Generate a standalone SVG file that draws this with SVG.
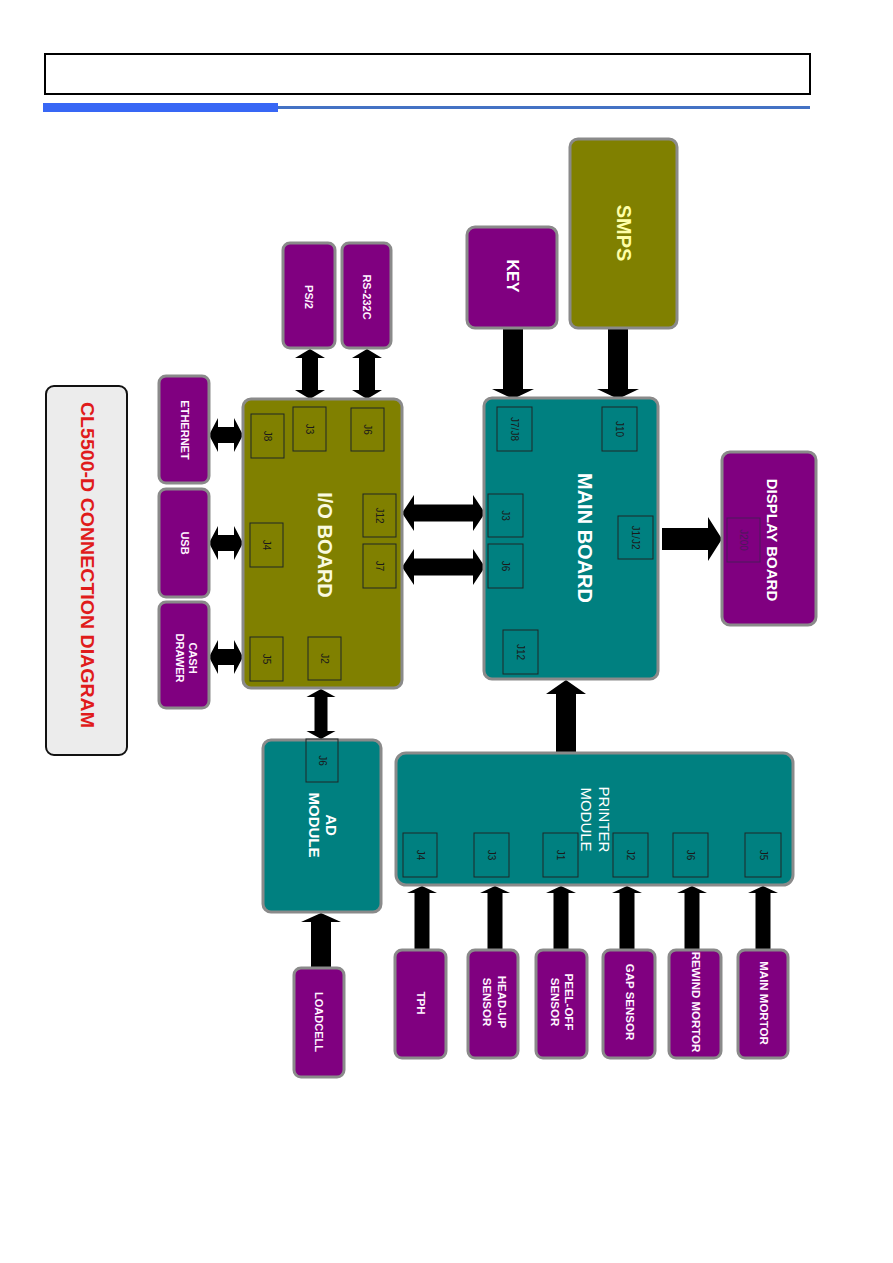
<svg xmlns="http://www.w3.org/2000/svg" width="893" height="1263" viewBox="0 0 893 1263">
<style>
.purple{fill:#800080;stroke:#8a8a8a;stroke-width:3}
.teal{fill:#008080;stroke:#8a8a8a;stroke-width:3}
.olive{fill:#808000;stroke:#8a8a8a;stroke-width:3}
.conn{fill:none;stroke:#1e2626;stroke-width:1}
.connd{fill:none;stroke:#4a1a5a;stroke-width:1}
.arr{fill:#000}
.lbl{font-family:"Liberation Sans",Arial,sans-serif;font-weight:bold;fill:#ffffff;text-anchor:middle;dominant-baseline:central}
.pl{font-size:11px;fill:#fff4ff}
.bl{font-size:11.5px;fill:#fff4ff}
.cl{font-family:"Liberation Sans",Arial,sans-serif;font-size:10px;fill:#1a1a1a;text-anchor:middle;dominant-baseline:central}
</style>
<rect width="893" height="1263" fill="#ffffff"/>
<g id="header">
<rect x="45" y="54" width="765" height="40" fill="none" stroke="#000" stroke-width="2"/>
<rect x="43" y="103" width="235" height="9" fill="#3867f5"/>
<rect x="278" y="106" width="532" height="3" fill="#4472c4"/>
</g>
<g id="connectors">
<polygon class="arr" points="209,435 218,418 218,427 234,427 234,418 243,435 234,452 234,443 218,443 218,452"/>
<polygon class="arr" points="209,543 218,526 218,535 234,535 234,526 243,543 234,560 234,551 218,551 218,560"/>
<polygon class="arr" points="209,657 218,640 218,649 234,649 234,640 243,657 234,674 234,665 218,665 218,674"/>
<polygon class="arr" points="310,349 325,358 318,358 318,390 325,390 310,399 295,390 302,390 302,358 295,358"/>
<polygon class="arr" points="367,349 382,358 375,358 375,390 382,390 367,399 352,390 359,390 359,358 352,358"/>
<polygon class="arr" points="402,513 414,495 414,504.5 473,504.5 473,495 485,513 473,531 473,521.5 414,521.5 414,531"/>
<polygon class="arr" points="402,567 414,549 414,558.5 473,558.5 473,549 485,567 473,585 473,575.5 414,575.5 414,585"/>
<polygon class="arr" points="503,328 523,328 523,389 534,389 513,399 492,389 503,389"/>
<polygon class="arr" points="608,328 628,328 628,389 639,389 618,399 597,389 608,389"/>
<polygon class="arr" points="662,528 708,528 708,517 722,539 708,561 708,550 662,550"/>
<polygon class="arr" points="556,753 576,753 576,694 586,694 566,680 546,694 556,694"/>
<polygon class="arr" points="321,689 335.5,697 327.5,697 327.5,731 335.5,731 321,739 306.5,731 314.5,731 314.5,697 306.5,697"/>
<polygon class="arr" points="311,968 331,968 331,922 341,922 321,913 301,922 311,922"/>
<polygon class="arr" points="414.5,950 429.5,950 429.5,893 437,893 422,886 407,893 414.5,893"/>
<polygon class="arr" points="487.5,950 502.5,950 502.5,893 510,893 495,886 480,893 487.5,893"/>
<polygon class="arr" points="553.5,950 568.5,950 568.5,893 576,893 561,886 546,893 553.5,893"/>
<polygon class="arr" points="619.5,950 634.5,950 634.5,893 642,893 627,886 612,893 619.5,893"/>
<polygon class="arr" points="684.5,950 699.5,950 699.5,893 707,893 692,886 677,893 684.5,893"/>
<polygon class="arr" points="755.5,950 770.5,950 770.5,893 778,893 763,886 748,893 755.5,893"/>
</g>
<g id="title">
<rect x="46" y="386" width="81" height="369" rx="8" fill="#ececec" stroke="#111" stroke-width="2"/>
<text class="lbl" transform="translate(87,565) rotate(90)" font-size="18" fill="#e01b1b" style="fill:#e01b1b" textLength="326" lengthAdjust="spacingAndGlyphs">CL5500-D CONNECTION DIAGRAM</text>
</g>
<g id="io-board">
<rect class="olive" x="243" y="399" width="159" height="289" rx="8"/>
<text class="lbl" transform="translate(325,545) rotate(90)" font-size="20" style="fill:#fafae0">I/O BOARD</text>
<rect class="conn" x="251" y="414" width="33" height="44"/><text class="cl" transform="translate(267.5,436) rotate(90)">J8</text>
<rect class="conn" x="293" y="407" width="33" height="44"/><text class="cl" transform="translate(309.5,429) rotate(90)">J3</text>
<rect class="conn" x="351" y="408" width="33" height="43"/><text class="cl" transform="translate(367.5,429.5) rotate(90)">J6</text>
<rect class="conn" x="363" y="494" width="33" height="43"/><text class="cl" transform="translate(379.5,515.5) rotate(90)">J12</text>
<rect class="conn" x="363" y="544" width="33" height="44"/><text class="cl" transform="translate(379.5,566) rotate(90)">J7</text>
<rect class="conn" x="250" y="523" width="33" height="44"/><text class="cl" transform="translate(266.5,545) rotate(90)">J4</text>
<rect class="conn" x="250" y="637" width="33" height="44"/><text class="cl" transform="translate(266.5,659) rotate(90)">J5</text>
<rect class="conn" x="308" y="637" width="33" height="43"/><text class="cl" transform="translate(324.5,658.5) rotate(90)">J2</text>
</g>
<g id="main-board">
<rect class="teal" x="484" y="398" width="174" height="281" rx="8"/>
<text class="lbl" transform="translate(585,538) rotate(90)" font-size="20">MAIN BOARD</text>
<rect class="conn" x="497" y="407" width="35" height="44"/><text class="cl" transform="translate(514.5,429) rotate(90)">J7/J8</text>
<rect class="conn" x="602" y="407" width="35" height="44"/><text class="cl" transform="translate(619.5,429) rotate(90)">J10</text>
<rect class="conn" x="488" y="494" width="35" height="43"/><text class="cl" transform="translate(505.5,515.5) rotate(90)">J3</text>
<rect class="conn" x="488" y="544" width="35" height="44"/><text class="cl" transform="translate(505.5,566) rotate(90)">J6</text>
<rect class="conn" x="618" y="516" width="35" height="43"/><text class="cl" transform="translate(635.5,537.5) rotate(90)">J1/J2</text>
<rect class="conn" x="503" y="630" width="35" height="44"/><text class="cl" transform="translate(520.5,652) rotate(90)">J12</text>
</g>
<g id="display-board">
<rect class="purple" x="722" y="452" width="94" height="173" rx="8"/>
<text class="lbl" transform="translate(772,540) rotate(90)" font-size="15">DISPLAY BOARD</text>
<rect class="connd" x="727" y="518" width="33" height="44"/><text class="cl" transform="translate(743.5,540) rotate(90)" style="fill:#4a1a5a">J200</text>
</g>
<g id="ad-module">
<rect class="teal" x="263" y="740" width="118" height="172" rx="8"/>
<text class="lbl" transform="translate(323.5,825) rotate(90)" font-size="15"><tspan x="0" y="-8.5">AD</tspan><tspan x="0" y="8.5">MODULE</tspan></text>
<rect class="conn" x="306" y="739" width="32" height="43"/><text class="cl" transform="translate(322,760.5) rotate(90)">J6</text>
</g>
<g id="printer-module">
<rect class="teal" x="396" y="753" width="397" height="132" rx="10"/>
<text class="lbl" transform="translate(596,819.5) rotate(90)" font-size="15" font-weight="normal" style="font-weight:normal"><tspan x="0" y="-9">PRINTER</tspan><tspan x="0" y="9">MODULE</tspan></text>
<rect class="conn" x="403" y="833" width="34" height="44"/><text class="cl" transform="translate(420,855) rotate(90)">J4</text>
<rect class="conn" x="474" y="833" width="35" height="44"/><text class="cl" transform="translate(491.5,855) rotate(90)">J3</text>
<rect class="conn" x="543" y="833" width="35" height="44"/><text class="cl" transform="translate(560.5,855) rotate(90)">J1</text>
<rect class="conn" x="613" y="833" width="35" height="44"/><text class="cl" transform="translate(630.5,855) rotate(90)">J2</text>
<rect class="conn" x="673" y="833" width="35" height="44"/><text class="cl" transform="translate(690.5,855) rotate(90)">J6</text>
<rect class="conn" x="745" y="833" width="36" height="44"/><text class="cl" transform="translate(763,855) rotate(90)">J5</text>
</g>
<g id="ethernet">
<rect class="purple" x="159" y="376" width="50" height="107" rx="7"/>
<text class="lbl pl" transform="translate(185,430) rotate(90)">ETHERNET</text>
</g>
<g id="usb">
<rect class="purple" x="159" y="489" width="50" height="108" rx="7"/>
<text class="lbl pl" transform="translate(185,543) rotate(90)">USB</text>
</g>
<g id="cash-drawer">
<rect class="purple" x="159" y="602" width="50" height="106" rx="7"/>
<text class="lbl pl" transform="translate(186.5,658) rotate(90)"><tspan x="0" y="-6.5">CASH</tspan><tspan x="0" y="6.5">DRAWER</tspan></text>
</g>
<g id="ps2">
<rect class="purple" x="283" y="243" width="52" height="105" rx="7"/>
<text class="lbl pl" transform="translate(309,297) rotate(90)">PS/2</text>
</g>
<g id="rs232c">
<rect class="purple" x="342" y="243" width="49" height="105" rx="7"/>
<text class="lbl pl" transform="translate(366.5,297) rotate(90)">RS-232C</text>
</g>
<g id="key">
<rect class="purple" x="467" y="227" width="90" height="101" rx="8"/>
<text class="lbl" transform="translate(512,276) rotate(90)" font-size="16">KEY</text>
</g>
<g id="smps">
<rect class="olive" x="570" y="139" width="107" height="189" rx="8"/>
<text class="lbl" transform="translate(624,233) rotate(90)" font-size="20" style="fill:#ffffa8">SMPS</text>
</g>
<g id="loadcell">
<rect class="purple" x="294" y="968" width="50" height="109" rx="7"/>
<text class="lbl pl" transform="translate(319,1022) rotate(90)">LOADCELL</text>
</g>
<g id="tph">
<rect class="purple" x="395" y="950" width="51" height="108" rx="7"/>
<text class="lbl bl" transform="translate(420.5,1003) rotate(90)">TPH</text>
</g>
<g id="head-up-sensor">
<rect class="purple" x="468" y="950" width="50" height="108" rx="7"/>
<text class="lbl bl" transform="translate(494.5,1002) rotate(90)"><tspan x="0" y="-7.5">HEAD-UP</tspan><tspan x="0" y="7.5">SENSOR</tspan></text>
</g>
<g id="peel-off-sensor">
<rect class="purple" x="536" y="950" width="51" height="108" rx="7"/>
<text class="lbl bl" transform="translate(562,1002) rotate(90)"><tspan x="0" y="-7">PEEL-OFF</tspan><tspan x="0" y="7">SENSOR</tspan></text>
</g>
<g id="gap-sensor">
<rect class="purple" x="603" y="950" width="52" height="108" rx="7"/>
<text class="lbl bl" transform="translate(630,1002) rotate(90)">GAP SENSOR</text>
</g>
<g id="rewind-mortor">
<rect class="purple" x="669" y="950" width="52" height="108" rx="7"/>
<text class="lbl bl" transform="translate(696,1002) rotate(90)">REWIND MORTOR</text>
</g>
<g id="main-mortor">
<rect class="purple" x="738" y="950" width="50" height="108" rx="7"/>
<text class="lbl bl" transform="translate(764,1003) rotate(90)">MAIN MORTOR</text>
</g>
</svg>
